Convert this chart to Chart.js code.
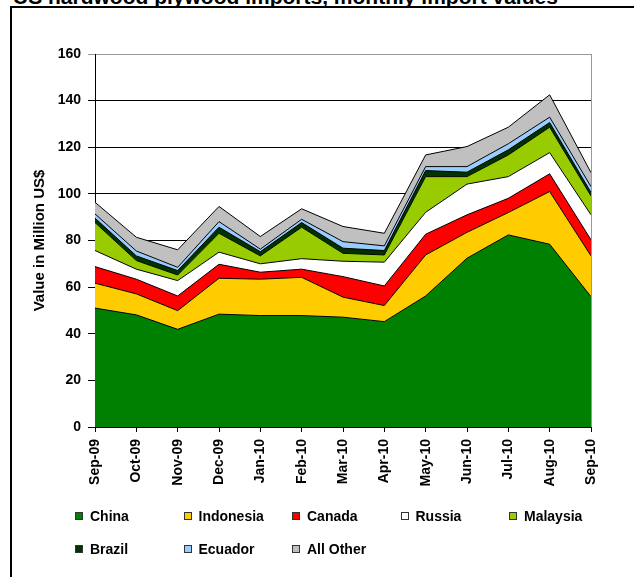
<!DOCTYPE html>
<html>
<head>
<meta charset="utf-8">
<script src="https://cdn.jsdelivr.net/npm/chart.js@4.4.1/dist/chart.umd.min.js"></script>
<style>
  html, body { margin: 0; padding: 0; background: #fff; }
  body { width: 634px; height: 577px; overflow: hidden; position: relative; font-family: Arial, "Liberation Sans", sans-serif; }
  #frame { position: absolute; left: 10px; top: 6px; width: 700px; height: 700px; border: 2px solid #000; }
  #title { position: absolute; left: 13px; top: -14px; font-size: 21px; line-height: 21px; font-weight: bold; white-space: nowrap; }
  #chart { position: absolute; left: 0; top: 0; }
  .lg { position: absolute; height: 16px; font-size: 14px; line-height: 16px; font-weight: bold; white-space: nowrap; }
  .lg i { position: absolute; left: 0; top: 4px; width: 6px; height: 6px; border: 1px solid #333; }
  .lg span { position: absolute; left: 15px; top: 0; }
</style>
</head>
<body>
<div id="frame"></div>
<div id="title">US hardwood plywood imports, monthly import values</div>
<canvas id="chart" width="634" height="577"></canvas>
<div id="legend"></div>
<script>
const months = ['Sep-09', 'Oct-09', 'Nov-09', 'Dec-09', 'Jan-10', 'Feb-10', 'Mar-10',
                'Apr-10', 'May-10', 'Jun-10', 'Jul-10', 'Aug-10', 'Sep-10'];

// monthly import values, million US$
const china     = [51.0, 48.1, 41.9, 48.4, 47.8, 47.8, 47.1, 45.2, 56.2, 72.4, 82.4, 78.4, 55.9];
const indonesia = [10.7,  9.0,  8.0, 15.4, 15.6, 16.4,  8.6,  6.9, 17.6, 11.1,  9.6, 22.6, 17.5];
const canada    = [ 7.1,  6.3,  6.3,  6.0,  3.0,  3.5,  8.8,  8.4,  8.9,  7.5,  6.1,  7.6,  6.9];
const russia    = [ 6.9,  4.3,  6.6,  5.2,  3.6,  4.5,  6.6, 10.2,  9.4, 13.2,  9.3,  9.1, 10.7];
const malaysia  = [12.0,  3.7,  2.4,  8.1,  3.4, 13.5,  3.4,  3.1, 15.3,  3.2,  9.3, 10.9,  8.1];
const brazil    = [ 1.9,  2.0,  1.9,  2.6,  1.8,  2.0,  2.2,  1.9,  2.6,  1.9,  2.2,  2.0,  1.5];
const ecuador   = [ 1.8,  2.1,  1.4,  2.4,  1.1,  1.4,  2.8,  2.0,  1.7,  2.4,  2.6,  2.3,  2.5];
const allOther  = [ 5.0,  5.9,  7.5,  6.5,  5.4,  4.5,  6.5,  5.4,  5.0,  8.6,  7.1,  9.6,  6.0];

const yTicks = [0, 20, 40, 60, 80, 100, 120, 140, 160];

const series = [
  ['China',     china,     '#008000'],
  ['Indonesia', indonesia, '#FFCC00'],
  ['Canada',    canada,    '#FF0000'],
  ['Russia',    russia,    '#FFFFFF'],
  ['Malaysia',  malaysia,  '#99CC00'],
  ['Brazil',    brazil,    '#003300'],
  ['Ecuador',   ecuador,   '#99CCFF'],
  ['All Other', allOther,  '#C0C0C0'],
];

const FONT = 'Arial, "Liberation Sans", sans-serif';
Chart.defaults.font.family = FONT;
Chart.defaults.font.weight = 'bold';
Chart.defaults.font.size = 14;
Chart.defaults.color = '#000';

// gray right edge of the plot area
const plotEdge = {
  id: 'plotEdge',
  afterDatasetsDraw(chart) {
    const { ctx, chartArea: a } = chart;
    const x = Math.round(a.right) + 0.5;
    ctx.save();
    ctx.strokeStyle = '#999';
    ctx.lineWidth = 1;
    ctx.beginPath();
    ctx.moveTo(x, Math.round(a.top));
    ctx.lineTo(x, Math.round(a.bottom));
    ctx.stroke();
    ctx.restore();
  }
};

const chart = new Chart(document.getElementById('chart'), {
  type: 'line',
  data: {
    labels: months,
    datasets: series.map(([label, data, color], i) => ({
      label, data,
      backgroundColor: color,
      borderColor: '#000',
      borderWidth: 1,
      pointRadius: 0,
      tension: 0,
      fill: i === 0 ? 'origin' : '-1',
    })),
  },
  options: {
    responsive: false,
    animation: false,
    layout: { padding: { top: 54, right: 43, left: 0, bottom: 0 } },
    plugins: { legend: { display: false }, tooltip: { enabled: false } },
    scales: {
      x: {
        offset: false,
        afterFit: s => { s.height = 150; },
        grid: { drawOnChartArea: false, drawTicks: true, tickLength: 5, color: '#000' },
        border: { color: '#000', width: 1 },
        ticks: { minRotation: 90, maxRotation: 90, padding: 7, autoSkip: false },
      },
      y: {
        stacked: true,
        min: 0, max: 160,
        afterFit: s => { s.width = 95; },
        afterBuildTicks: s => { s.ticks = yTicks.map(v => ({ value: v })); },
        grid: { color: c => c.tick && c.tick.value === 160 ? '#999' : '#000', tickLength: 7 },
        border: { color: '#000', width: 1 },
        ticks: { padding: 7 },
        title: { display: true, text: 'Value in Million US$', font: { size: 15, weight: 'bold' }, padding: { top: 31 } },
      },
    },
  },
  plugins: [plotEdge],
});

// legend: five columns, two rows
const legend = document.getElementById('legend');
chart.data.datasets.forEach((ds, i) => {
  const item = document.createElement('div');
  item.className = 'lg';
  item.style.left = (75 + (i % 5) * 108.5) + 'px';
  item.style.top = (508 + Math.floor(i / 5) * 33) + 'px';
  item.innerHTML = `<i style="background:${ds.backgroundColor}"></i><span>${ds.label}</span>`;
  legend.appendChild(item);
});
</script>
</body>
</html>
